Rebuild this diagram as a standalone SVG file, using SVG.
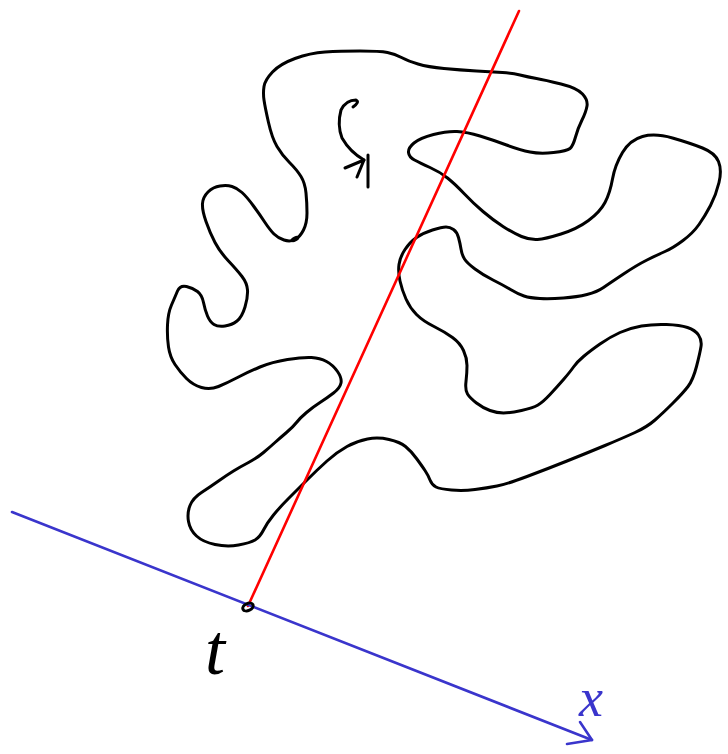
<svg xmlns="http://www.w3.org/2000/svg" width="728" height="754" viewBox="0 0 728 754">
<style>
.ink{fill:none;stroke:#000;stroke-width:3;stroke-linecap:round;stroke-linejoin:round}
.red{fill:none;stroke:#ff0000;stroke-width:2.6;stroke-linecap:round}
.blue{fill:none;stroke:#3a35cc;stroke-width:2.6;stroke-linecap:round;stroke-linejoin:round}
.lbl{font-family:"Liberation Serif",serif;font-style:italic}
</style>
<rect width="728" height="754" fill="#fff"/>
<g id="region">
<path class="ink" d="M264,86.5 Q265,80 272.5,72 Q280,64 295,58.5 Q310,53 325,52 Q340,51 360,51 Q380,51 387.5,52.5 Q395,54 401.5,57.5 Q408,61 418,64 Q428,67 444,68.5 Q460,70 476.5,71 Q493,72 502.5,72.5 Q512,73 520,75 Q528,77 536.5,78.5 Q545,80 561,84 Q577,88 582.5,94 Q588,100 587,106 Q586,112 582,120 Q578,128 575.5,137 Q573,146 570,148.5 Q567,151 553.5,152.5 Q540,154 530,152 Q520,150 506.5,145 Q493,140 480,136 Q467,132 457,131.5 Q447,131 433.5,134.5 Q420,138 414,143 Q408,148 408.5,152.5 Q409,157 414.5,160 Q420,163 430,167.5 Q440,172 447.5,178 Q455,184 464,193.5 Q473,203 483,211.5 Q493,220 503,226.5 Q513,233 521.5,236.5 Q530,240 537.5,239.5 Q545,239 561,234 Q577,229 588.5,220.5 Q600,212 605,202.5 Q610,193 612.5,179 Q615,165 622.5,152.5 Q630,140 642.5,136.5 Q655,133 672.5,138 Q690,143 702.5,148 Q715,153 718.5,161.5 Q722,170 719,182.5 Q716,195 710.5,205.5 Q705,216 699,224.5 Q693,233 683,240.5 Q673,248 665,251.5 Q657,255 647,260 Q637,265 623.5,274 Q610,283 603.5,287.5 Q597,292 587,294.5 Q577,297 563.5,298 Q550,299 540,298.5 Q530,298 524,296 Q518,294 510.5,289.5 Q503,285 493,280 Q483,275 475,269 Q467,263 464.5,259 Q462,255 461,249 Q460,243 458.5,237.5 Q457,232 453.5,229.5 Q450,227 446,227 Q442,227 432.5,230 Q423,233 416.5,237.5 Q410,242 405,249.5 Q400,257 399,264.5 Q398,272 400,281 Q402,290 406,299 Q410,308 416.5,314.5 Q423,321 434,326.5 Q445,332 452.5,337.5 Q460,343 463.5,350.5 Q467,358 467,365.5 Q467,373 466,381.5 Q465,390 467.5,394 Q470,398 476.5,403 Q483,408 490,410.5 Q497,413 503.5,413 Q510,413 521.5,410.5 Q533,408 538,405 Q543,402 550,394.5 Q557,387 563.5,379.5 Q570,372 573.5,367 Q577,362 583.5,356.5 Q590,351 600,344 Q610,337 620,332.5 Q630,328 641.5,326 Q653,324 666.5,324.5 Q680,325 687.5,327.5 Q695,330 698.5,335 Q702,340 701,346.5 Q700,353 696.5,366.5 Q693,380 688,386.5 Q683,393 673,403 Q663,413 655,420 Q647,427 635,432.5 Q623,438 605,445.5 Q587,453 567,461 Q547,469 527,476.5 Q507,484 497,486 Q487,488 475,489.5 Q463,491 451.5,490 Q440,489 436,487 Q432,485 430,480 Q428,475 425,470.5 Q422,466 416.5,458.5 Q411,451 405.5,446.5 Q400,442 389,439.5 Q378,437 367.5,439 Q357,441 347,446.5 Q337,452 327,461 Q317,470 307,480 Q297,490 288.5,498.5 Q280,507 273.5,515 Q267,523 263.5,530 Q260,537 255,540 Q250,543 238.5,545 Q227,547 215,544.5 Q203,542 196.5,536 Q190,530 188.5,521.5 Q187,513 190,505.5 Q193,498 201.5,492.5 Q210,487 218.5,481 Q227,475 233.5,471 Q240,467 248.5,462.5 Q257,458 263.5,452.5 Q270,447 275,442.5 Q280,438 286.5,432.5 Q293,427 296.5,422.5 Q300,418 306.5,412.5 Q313,407 320,402.5 Q327,398 333.5,393 Q340,388 341,383 Q342,378 337.5,371.5 Q333,365 326.5,361.5 Q320,358 311.5,357.5 Q303,357 287.5,359.5 Q272,362 260,367 Q248,372 237.5,377.5 Q227,383 218.5,386.5 Q210,390 201.5,387.5 Q193,385 186.5,378.5 Q180,372 175,364.5 Q170,357 168.5,347 Q167,337 167.5,325 Q168,313 171.5,305 Q175,297 177.5,291 Q180,285 186.5,286.5 Q193,288 197.5,291.5 Q202,295 203.5,302.5 Q205,310 207.5,316 Q210,322 214,324.5 Q218,327 225,326 Q232,325 237,321 Q242,317 245,307 Q248,297 247.5,290 Q247,283 242,276.5 Q237,270 228.5,261 Q220,252 215,242.5 Q210,233 206,221.5 Q202,210 202.5,203.5 Q203,197 208,192 Q213,187 220,186 Q227,185 232,186.5 Q237,188 242,192.5 Q247,197 253.5,206 Q260,215 265,222.5 Q270,230 274,234 Q278,238 284,240 Q290,242 295,239.5 Q300,237 303.5,230 Q307,223 307,213 Q307,203 306,193 Q305,183 301,176.5 Q297,170 289.5,162.5 Q282,155 277,146.5 Q272,138 268.5,122.5 Q265,107 264,100 Q263,93 264,86.5 Z"/>
<ellipse cx="295" cy="239" rx="4.5" ry="2.5" transform="rotate(-25 295 239)" fill="#000"/>
</g>
<g id="orientation-mark">
<path class="ink" d="M353,107 Q360,102 356,100 Q346,100 341,110 Q337,125 342,138 Q350,152 364,160"/>
<path class="ink" d="M345,168 L364,160 L357,177"/>
<path class="ink" d="M368,155 L368,187"/>
</g>
<g id="connectors">
<line class="red" x1="248" y1="606" x2="519" y2="11"/>
<line class="blue" x1="12" y1="512" x2="592" y2="740"/>
<path class="blue" d="M567,744 L592,740 L580,722"/>
</g>
<g id="point-t">
<ellipse cx="248" cy="607" rx="5.5" ry="3.5" transform="rotate(-25 248 607)" fill="none" stroke="#000" stroke-width="3"/>
<text class="lbl" x="205" y="674" font-size="72" fill="#000">t</text>
</g>
<g id="axis-label">
<text class="lbl" x="579" y="716" font-size="54" fill="#3a35cc">x</text>
</g>
</svg>
